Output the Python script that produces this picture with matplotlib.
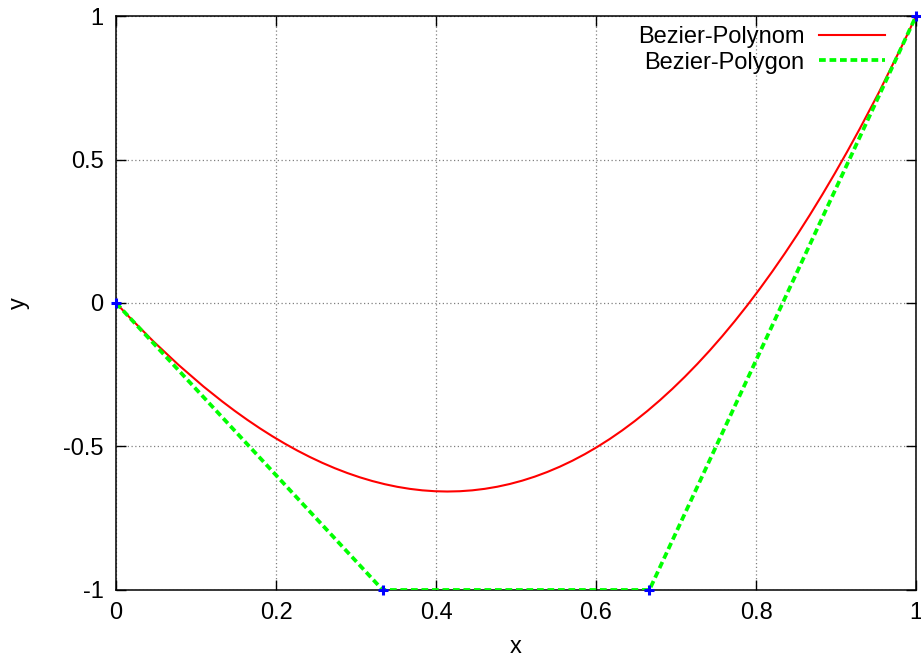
import matplotlib
matplotlib.use("Agg")
import matplotlib.pyplot as plt
from matplotlib.path import Path
from matplotlib.patches import PathPatch
from matplotlib.lines import Line2D

# Control points of the cubic Bezier curve
ctrl_x = [0.0, 1/3, 2/3, 1.0]
ctrl_y = [0.0, -1.0, -1.0, 1.0]

x_ticks = [0, 0.2, 0.4, 0.6, 0.8, 1]
x_ticklabels = ["0", "0.2", "0.4", "0.6", "0.8", "1"]
y_ticks = [-1, -0.5, 0, 0.5, 1]
y_ticklabels = ["-1", "-0.5", "0", "0.5", "1"]

plt.rcParams['font.family'] = ['Liberation Sans', 'DejaVu Sans']

fig = plt.figure(figsize=(9.21, 6.62), dpi=100)
ax = fig.add_axes([0.126, 0.1088, 0.8686, 0.867])

red = '#ff0000'
green = '#00ff00'
dash = (0, (1.8, 1.0))

# Bezier polynomial drawn by matplotlib's own cubic Bezier path
verts = list(zip(ctrl_x, ctrl_y))
codes = [Path.MOVETO, Path.CURVE4, Path.CURVE4, Path.CURVE4]
curve = PathPatch(Path(verts, codes), facecolor='none', edgecolor=red,
                  lw=1.5, zorder=3)
ax.add_patch(curve)

# Control polygon
ax.plot(ctrl_x, ctrl_y, color=green, lw=2.7, linestyle=dash, zorder=4)
# Control points
ax.plot(ctrl_x, ctrl_y, linestyle='none', marker='+', color='#0000ff',
        markersize=6.5, markeredgewidth=2.2, zorder=5, clip_on=False)

ax.set_xlim(0, 1)
ax.set_ylim(-1, 1)
ax.set_xticks(x_ticks)
ax.set_xticklabels(x_ticklabels)
ax.set_yticks(y_ticks)
ax.set_yticklabels(y_ticklabels)
ax.tick_params(direction='in', length=7, width=1, labelsize=17, top=True,
               right=True, pad=9)
ax.grid(True, color='#808080', linestyle=(0, (1, 2)), lw=0.9)
for s in ax.spines.values():
    s.set_linewidth(1.1)

ax.set_xlabel('x', fontsize=17, labelpad=8)
ax.set_ylabel('y', fontsize=17, labelpad=24)

handles = [Line2D([], [], color=red, lw=1.5),
           Line2D([], [], color=green, lw=2.7, linestyle=dash)]
leg = ax.legend(handles, ['Bezier-Polynom', 'Bezier-Polygon'],
                loc='upper right', frameon=False, fontsize=17,
                markerfirst=False, handlelength=2.8, handletextpad=0.6,
                labelspacing=0.15, borderpad=0, borderaxespad=0,
                bbox_to_anchor=(885 / 921, 1 - 26 / 662),
                bbox_transform=fig.transFigure)
leg.set_zorder(6)

fig.savefig('out.png', dpi=100)
